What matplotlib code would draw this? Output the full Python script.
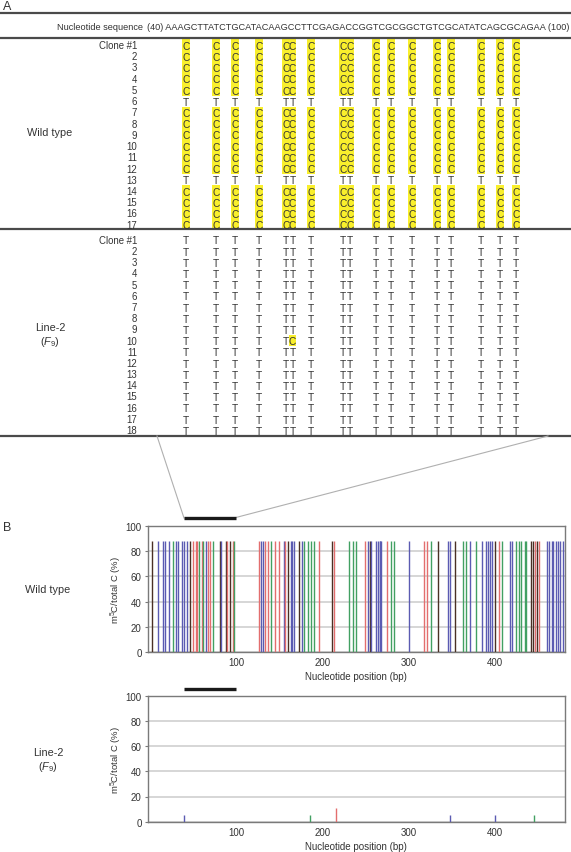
import matplotlib
matplotlib.use('Agg')
import matplotlib.pyplot as plt
from matplotlib.patches import Rectangle
import matplotlib.transforms as mtransforms

plt.rcParams['font.family'] = ['Liberation Sans', 'DejaVu Sans']
plt.rcParams['mathtext.fontset'] = 'custom'
plt.rcParams['mathtext.rm'] = 'Liberation Sans'
plt.rcParams['mathtext.it'] = 'Liberation Sans:italic'

# ---------------- data ----------------
seq_start = 40
seq_end = 100
sequence = "AAAGCTTATCTGCATACAAGCCTTCGAGACCGGTCGCGGCTGTCGCATATCAGCGCAGAA"

wt_clones = ['Clone #1', '2', '3', '4', '5', '6', '7', '8', '9', '10', '11', '12',
             '13', '14', '15', '16', '17']
wt_calls = [
    "CCCCCCCCCCCCCCCCC",
    "CCCCCCCCCCCCCCCCC",
    "CCCCCCCCCCCCCCCCC",
    "CCCCCCCCCCCCCCCCC",
    "CCCCCCCCCCCCCCCCC",
    "TTTTTTTTTTTTTTTTT",
    "CCCCCCCCCCCCCCCCC",
    "CCCCCCCCCCCCCCCCC",
    "CCCCCCCCCCCCCCCCC",
    "CCCCCCCCCCCCCCCCC",
    "CCCCCCCCCCCCCCCCC",
    "CCCCCCCCCCCCCCCCC",
    "TTTTTTTTTTTTTTTTT",
    "CCCCCCCCCCCCCCCCC",
    "CCCCCCCCCCCCCCCCC",
    "CCCCCCCCCCCCCCCCC",
    "CCCCCCCCCCCCCCCCC",
]

l2_clones = ['Clone #1', '2', '3', '4', '5', '6', '7', '8', '9', '10', '11', '12',
             '13', '14', '15', '16', '17', '18']
l2_calls = [
    "TTTTTTTTTTTTTTTTT",
    "TTTTTTTTTTTTTTTTT",
    "TTTTTTTTTTTTTTTTT",
    "TTTTTTTTTTTTTTTTT",
    "TTTTTTTTTTTTTTTTT",
    "TTTTTTTTTTTTTTTTT",
    "TTTTTTTTTTTTTTTTT",
    "TTTTTTTTTTTTTTTTT",
    "TTTTTTTTTTTTTTTTT",
    "TTTTTCTTTTTTTTTTT",
    "TTTTTTTTTTTTTTTTT",
    "TTTTTTTTTTTTTTTTT",
    "TTTTTTTTTTTTTTTTT",
    "TTTTTTTTTTTTTTTTT",
    "TTTTTTTTTTTTTTTTT",
    "TTTTTTTTTTTTTTTTT",
    "TTTTTTTTTTTTTTTTT",
    "TTTTTTTTTTTTTTTTT",
]

# Panel B: wild type methylated positions (bp), context class, % methylation
wt_pos = [3, 9, 15, 18, 22, 27, 30, 33, 37, 40, 43, 47, 50, 53, 55, 57, 60, 62, 65,
          68, 70, 73, 81, 83, 88, 90, 93, 96, 98,
          126, 129, 131, 133, 137, 140, 145, 150, 155, 157, 160, 163, 165, 167, 173,
          176, 179, 183, 187, 190, 196,
          211, 213, 231, 235, 239, 249, 253, 255, 256, 262, 264, 266, 267, 268, 275,
          279, 283, 300, 317, 321, 326, 334, 345, 347, 353, 363, 366, 371, 378, 385,
          389, 392, 394, 396, 400, 404, 408, 417, 419, 424, 427, 430, 434, 436,
          441, 444, 446, 448, 451, 460, 462, 465, 467, 470, 472, 475, 478]
wt_ctx = ['dark', 'blue', 'blue', 'blue', 'blue', 'green', 'blue', 'blue', 'blue', 'blue',
          'blue', 'dark', 'red', 'red', 'red', 'green', 'red', 'green', 'blue',
          'red', 'red', 'green', 'dark', 'blue', 'dark', 'red', 'dark', 'red', 'green',
          'red', 'blue', 'blue', 'red', 'red', 'green', 'red', 'red', 'blue', 'red',
          'dark', 'blue', 'blue', 'blue', 'dark',
          'blue', 'green', 'green', 'green', 'green', 'red',
          'dark', 'red', 'green', 'green', 'green', 'red', 'blue', 'dark', 'blue',
          'blue', 'blue', 'blue', 'blue', 'blue', 'red',
          'green', 'green', 'blue', 'red', 'red', 'green', 'dark', 'blue', 'blue',
          'dark', 'green', 'green', 'blue', 'green', 'blue',
          'blue', 'blue', 'blue', 'blue', 'dark', 'red', 'green', 'blue', 'blue',
          'green', 'green', 'green', 'green', 'green',
          'dark', 'dark', 'red', 'dark', 'red', 'blue', 'blue', 'blue', 'blue',
          'blue', 'blue', 'blue', 'blue']
wt_pct = [
    88.2, 88.2, 88.2, 88.2, 88.2, 88.2, 88.2, 88.2, 88.2, 88.2, 88.2, 88.2, 88.2,
    88.2, 88.2, 88.2, 88.2, 88.2, 88.2, 88.2, 88.2, 88.2, 88.2, 88.2, 88.2, 88.2,
    88.2, 88.2, 88.2, 88.2, 88.2, 88.2, 88.2, 88.2, 88.2, 88.2, 88.2, 88.2, 88.2,
    88.2, 88.2, 88.2, 88.2, 88.2, 88.2, 88.2, 88.2, 88.2, 88.2, 88.2, 88.2, 88.2,
    88.2, 88.2, 88.2, 88.2, 88.2, 88.2, 88.2, 88.2, 88.2, 88.2, 88.2, 88.2, 88.2,
    88.2, 88.2, 88.2, 88.2, 88.2, 88.2, 88.2, 88.2, 88.2, 88.2, 88.2, 88.2, 88.2,
    88.2, 88.2, 88.2, 88.2, 88.2, 88.2, 88.2, 88.2, 88.2, 88.2, 88.2, 88.2, 88.2,
    88.2, 88.2, 88.2, 88.2, 88.2, 88.2, 88.2, 88.2, 88.2, 88.2, 88.2, 88.2, 88.2,
    88.2, 88.2, 88.2]

l2_pos = [40, 186, 216, 348, 399, 445]
l2_ctx = ['blue', 'green', 'red', 'blue', 'blue', 'green']
l2_pct = [5.6, 5.6, 11.1, 5.6, 5.6, 5.6]

xticks_b = [100, 200, 300, 400]
yticks_b = [0, 20, 40, 60, 80, 100]

# ---------------- styles / layout ----------------
ctx_colors = {'blue': '#5b5bb2', 'red': '#e36e6e', 'green': '#42a062', 'dark': '#4a3024'}
txt = '#333333'
yellow = '#f9ef2c'
W, H = 571, 853
col_x = [185.7, 216.0, 234.7, 259.0, 285.8, 292.4, 310.7, 343.2, 349.8, 376.3,
         391.3, 411.7, 437.3, 451.3, 480.7, 500.0, 515.7]

fig = plt.figure(figsize=(W / 100, H / 100), dpi=100)
ax0 = fig.add_axes([0, 0, 1, 1])
ax0.set_xlim(0, W)
ax0.set_ylim(H, 0)
ax0.axis('off')

# Panel A
ax0.text(3, 7, 'A', fontsize=9, color=txt, ha='left', va='center')
for y in [14, 39.3, 230, 436.7]:
    ax0.plot([0, W], [y, y], color='#4a4a4a', lw=1.6, solid_capstyle='butt')

ax0.text(143, 27, 'Nucleotide sequence', fontsize=6.6, color=txt, ha='right', va='center')
ax0.text(147, 27, '(%d) %s (%d)' % (seq_start, sequence, seq_end), fontsize=6.6,
         color=txt, ha='left', va='center')


def draw_block(y0, step, clones, calls):
    for i, (lab, row) in enumerate(zip(clones, calls)):
        y = y0 + i * step
        ax0.text(137, y, lab, fontsize=6.9, color=txt, ha='right', va='center')
        for x, ch in zip(col_x, row):
            if ch == 'C':
                ax0.add_patch(Rectangle((x - 3.9, y - step / 2), 7.8, step,
                                        facecolor=yellow, edgecolor='none', zorder=1))
            ax0.text(x, y + 0.6, ch, fontsize=7.3, color=txt, ha='center', va='center',
                     zorder=2)


draw_block(46.0, 11.23, wt_clones, wt_calls)
draw_block(240.7, 11.2, l2_clones, l2_calls)

ax0.text(50, 133, 'Wild type', fontsize=7.8, color=txt, ha='center', va='center')
ax0.text(50, 328, 'Line-2', fontsize=7.8, color=txt, ha='center', va='center')
ax0.text(50, 342, r'($\mathit{F}_9$)', fontsize=7.8, color=txt, ha='center', va='center')

# connectors
ax0.plot([157, 184], [437, 519], color='#b0b0b0', lw=0.8)
ax0.plot([548, 234], [437, 519], color='#b0b0b0', lw=0.8)

# Panel B
ax0.text(3, 528, 'B', fontsize=9, color=txt, ha='left', va='center')
ax0.text(48, 590, 'Wild type', fontsize=7.8, color=txt, ha='center', va='center')
ax0.text(48, 753, 'Line-2', fontsize=7.8, color=txt, ha='center', va='center')
ax0.text(48, 767, r'($\mathit{F}_9$)', fontsize=7.8, color=txt, ha='center', va='center')

left = 148 / W
width = 416.5 / W
ax1 = fig.add_axes([left, 1 - 652.7 / H, width, 125.4 / H])
ax2 = fig.add_axes([left, 1 - 822.7 / H, width, 126 / H])

for ax, pos, ctx, pct, bar_y in [(ax1, wt_pos, wt_ctx, wt_pct, 1.066),
                                 (ax2, l2_pos, l2_ctx, l2_pct, 1.053)]:
    ax.set_xlim(-2, 480)
    ax.set_ylim(0, 100)
    ax.set_yticks(yticks_b)
    ax.set_xticks(xticks_b)
    ax.grid(axis='y', color='#cfcfcf', lw=1.2)
    ax.set_axisbelow(True)
    ax.vlines(pos, 0, pct, colors=[ctx_colors[c] for c in ctx], lw=1.0, zorder=3)
    for s in ax.spines.values():
        s.set_color('#7a7a7a')
        s.set_linewidth(1.0)
    ax.tick_params(axis='y', length=2.5, width=0.8, color='#7a7a7a', labelsize=7,
                   labelcolor=txt, pad=2)
    ax.tick_params(axis='x', length=0, labelsize=7, labelcolor=txt, pad=4)
    ax.set_ylabel(r'm$^5$C/total C (%)', fontsize=6.8, color=txt, labelpad=1)
    ax.set_xlabel('Nucleotide position (bp)', fontsize=7, color=txt, labelpad=3)
    tr = mtransforms.blended_transform_factory(ax.transData, ax.transAxes)
    ax.plot([40, 100], [bar_y, bar_y], transform=tr, color='#1a1a1a', lw=2.4,
            clip_on=False, solid_capstyle='butt')

fig.savefig('out.png', dpi=100)
